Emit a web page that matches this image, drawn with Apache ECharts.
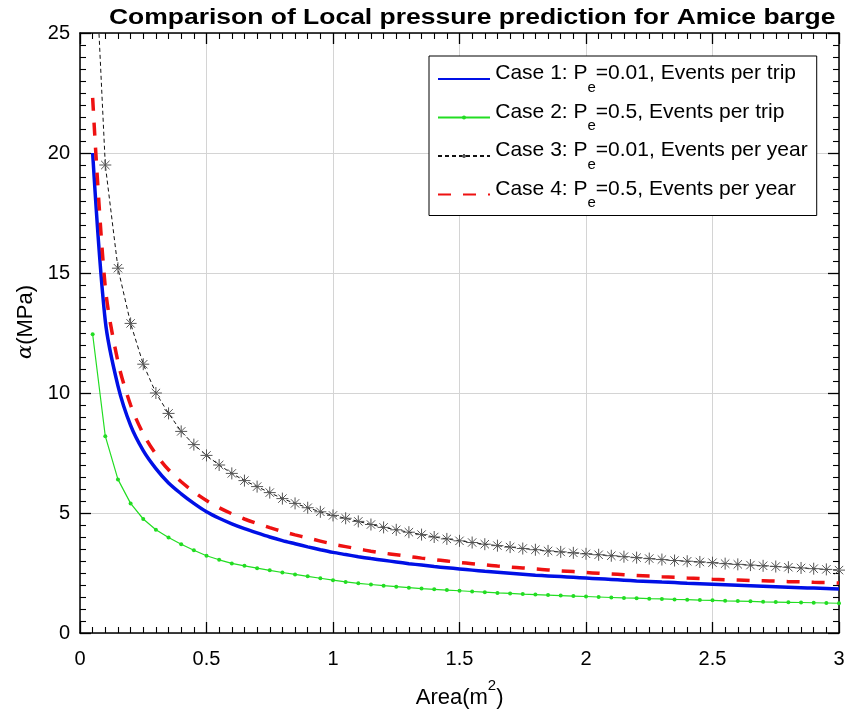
<!DOCTYPE html>
<html>
<head>
<meta charset="utf-8">
<script src="https://cdn.jsdelivr.net/npm/echarts@6/dist/echarts.min.js"></script>
<style>html,body{margin:0;padding:0;background:#fff;}#chart{width:848px;height:720px;}</style>
</head>
<body>
<div id="chart"></div>
<script>
const titleText = 'Comparison of Local pressure prediction for Amice barge';
const xTicks = [0, 0.5, 1, 1.5, 2, 2.5, 3];
const yTicks = [0, 5, 10, 15, 20, 25];
const seriesNames = [
  'Case 1: P_e=0.01, Events per trip',
  'Case 2: P_e=0.5, Events per trip',
  'Case 3: P_e=0.01, Events per year',
  'Case 4: P_e=0.5, Events per year'
];
const areas = [0.05,0.10,0.15,0.20,0.25,0.30,0.35,0.40,0.45,0.50,0.55,0.60,0.65,0.70,0.75,0.80,0.85,0.90,0.95,1.00,
  1.05,1.10,1.15,1.20,1.25,1.30,1.35,1.40,1.45,1.50,1.55,1.60,1.65,1.70,1.75,1.80,1.85,1.90,1.95,2.00,
  2.05,2.10,2.15,2.20,2.25,2.30,2.35,2.40,2.45,2.50,2.55,2.60,2.65,2.70,2.75,2.80,2.85,2.90,2.95,3.00];
const case1 = [20.0,13.0,10.3,8.65,7.6,6.85,6.25,5.8,5.4,5.05,4.78,4.55,4.35,4.17,4.0,3.85,3.72,3.59,3.47,3.36,
  3.27,3.18,3.10,3.03,2.96,2.89,2.83,2.77,2.72,2.67,2.62,2.57,2.53,2.49,2.45,2.41,2.38,2.35,2.32,2.29,
  2.26,2.23,2.20,2.17,2.15,2.12,2.10,2.07,2.05,2.03,2.01,1.99,1.97,1.95,1.93,1.91,1.89,1.87,1.85,1.83];
const case2 = [12.45,8.2,6.4,5.4,4.75,4.3,3.98,3.7,3.45,3.22,3.05,2.9,2.8,2.7,2.61,2.52,2.44,2.36,2.28,2.2,
  2.13,2.07,2.02,1.97,1.93,1.89,1.85,1.82,1.79,1.76,1.73,1.70,1.67,1.65,1.62,1.60,1.58,1.56,1.54,1.52,
  1.50,1.48,1.46,1.45,1.43,1.42,1.40,1.39,1.37,1.36,1.34,1.33,1.32,1.30,1.29,1.28,1.27,1.26,1.25,1.24];
const case3 = [30.5,19.5,15.2,12.9,11.2,10.0,9.15,8.4,7.85,7.4,7.0,6.65,6.35,6.1,5.85,5.6,5.4,5.22,5.05,4.9,
  4.78,4.65,4.52,4.4,4.3,4.2,4.1,4.0,3.92,3.84,3.77,3.7,3.64,3.58,3.52,3.47,3.42,3.38,3.34,3.30,
  3.26,3.22,3.18,3.14,3.10,3.06,3.02,2.99,2.96,2.93,2.89,2.86,2.83,2.80,2.77,2.74,2.71,2.68,2.65,2.62];
const case4 = [22.3,14.4,11.3,9.5,8.3,7.45,6.8,6.3,5.88,5.52,5.22,4.97,4.75,4.56,4.39,4.23,4.09,3.96,3.83,3.70,
  3.60,3.50,3.41,3.33,3.26,3.19,3.12,3.06,3.0,2.94,2.89,2.84,2.79,2.75,2.71,2.67,2.63,2.59,2.56,2.52,
  2.49,2.46,2.43,2.40,2.37,2.34,2.32,2.29,2.27,2.24,2.22,2.21,2.19,2.18,2.16,2.14,2.13,2.11,2.10,2.08];

const pairs = vals => areas.map((a, i) => [a, vals[i]]);
const FONT = 'Liberation Sans, Arial, Helvetica, sans-serif';
const asterisk = 'path://M0,5L10,5M5,0L5,10M1.5,1.5L8.5,8.5M1.5,8.5L8.5,1.5';

const chart = echarts.init(document.getElementById('chart'), null, {renderer: 'canvas'});
const xMin = xTicks[0], xMax = xTicks[xTicks.length - 1], xInt = xTicks[1] - xTicks[0];
const yMin = yTicks[0], yMax = yTicks[yTicks.length - 1], yInt = yTicks[1] - yTicks[0];

function baseAxis(extra) {
  return Object.assign({
    type: 'value',
    axisLine: {show: true, onZero: false, lineStyle: {color: '#000', width: 1.5}},
    axisTick: {show: true, inside: true, length: 11, lineStyle: {color: '#000', width: 1.3}},
    minorTick: {show: true, splitNumber: 10, length: 6, lineStyle: {color: '#000', width: 1.1}},
    splitLine: {show: false},
    axisLabel: {show: false}
  }, extra);
}

const hidden = {color: 'rgba(0,0,0,0)', borderColor: 'rgba(0,0,0,0)', borderWidth: 0};

const option = {
  backgroundColor: '#fff',
  animation: false,
  graphic: [{
    type: 'text',
    left: 109, top: 7,
    scaleX: 1.203,
    style: {
      text: titleText,
      font: 'bold 22px ' + FONT,
      fill: '#000'
    }
  }],
  grid: {left: 80, right: 9, top: 33, bottom: 87, containLabel: false},
  legend: {
    orient: 'vertical',
    left: 429, top: 56,
    padding: [7, 9, 5, 8],
    itemGap: 6.5,
    itemWidth: 52, itemHeight: 5,
    backgroundColor: '#fff',
    borderColor: '#000', borderWidth: 1,
    data: [
      {name: seriesNames[0], itemStyle: hidden},
      {name: seriesNames[1]},
      {name: seriesNames[2]},
      {name: seriesNames[3], itemStyle: hidden}
    ],
    formatter: name => {
      const p = name.split('P_e');
      return '{h| }{t|' + p[0] + 'P}{s|e}{t|' + p[1] + '}';
    },
    textStyle: {
      fontFamily: FONT, fontSize: 21, color: '#000',
      rich: {
        h: {fontSize: 1, lineHeight: 32},
        t: {fontFamily: FONT, fontSize: 21, color: '#000', lineHeight: 24, verticalAlign: 'top'},
        s: {fontFamily: FONT, fontSize: 15, color: '#000', lineHeight: 18, verticalAlign: 'bottom'}
      }
    }
  },
  xAxis: [
    baseAxis({
      position: 'bottom', min: xMin, max: xMax, interval: xInt,
      axisLabel: {show: true, margin: 16, color: '#000', fontFamily: FONT, fontSize: 20,
        formatter: v => String(+v.toFixed(2))},
      splitLine: {show: true, lineStyle: {color: '#d4d4d4', width: 1}},
      name: '{h| }{t|Area(m}{sup|2}{t|)}',
      nameLocation: 'middle', nameGap: 45,
      nameTextStyle: {
        color: '#000', fontFamily: FONT, fontSize: 22,
        rich: {
          h: {fontSize: 1, lineHeight: 31},
          t: {fontFamily: FONT, fontSize: 22, color: '#000', lineHeight: 26, verticalAlign: 'bottom'},
          sup: {fontFamily: FONT, fontSize: 15, color: '#000', lineHeight: 16, verticalAlign: 'top'}
        }
      }
    }),
    baseAxis({position: 'top', min: xMin, max: xMax, interval: xInt})
  ],
  yAxis: [
    baseAxis({
      position: 'left', min: yMin, max: yMax, interval: yInt,
      axisLabel: {show: true, margin: 10, color: '#000', fontFamily: FONT, fontSize: 20},
      splitLine: {show: true, lineStyle: {color: '#d4d4d4', width: 1}},
      name: '{a|α}(MPa)',
      nameLocation: 'middle', nameGap: 42, nameRotate: 90,
      nameTextStyle: {
        color: '#000', fontFamily: FONT, fontSize: 22, padding: [0, 0, 0, 22],
        rich: {a: {fontFamily: 'DejaVu Serif', fontStyle: 'italic', fontSize: 21, color: '#000'}}
      }
    }),
    baseAxis({position: 'right', min: yMin, max: yMax, interval: yInt})
  ],
  series: [
    {
      name: seriesNames[0], type: 'line', data: pairs(case1),
      symbol: 'none', smooth: 0.3, clip: true,
      lineStyle: {color: '#0010e6', width: 3.5}, itemStyle: {color: '#0010e6'}, z: 3
    },
    {
      name: seriesNames[1], type: 'line', data: pairs(case2),
      symbol: 'circle', symbolSize: 4, showSymbol: true, clip: true,
      lineStyle: {color: '#22dd22', width: 1.2}, itemStyle: {color: '#22dd22'}, z: 3
    },
    {
      name: seriesNames[2], type: 'line', data: pairs(case3),
      symbol: asterisk, symbolSize: 12, showSymbol: true, clip: true,
      lineStyle: {color: '#111', width: 1, type: [4, 3]},
      itemStyle: {color: 'none', borderColor: '#555', borderWidth: 1}, z: 4
    },
    {
      name: seriesNames[3], type: 'line', data: pairs(case4),
      symbol: 'none', smooth: 0.3, clip: true,
      lineStyle: {color: '#ee1111', width: 3.5, type: [13, 12]}, itemStyle: {color: '#ee1111'}, z: 5
    }
  ]
};
chart.setOption(option);
</script>
</body>
</html>
